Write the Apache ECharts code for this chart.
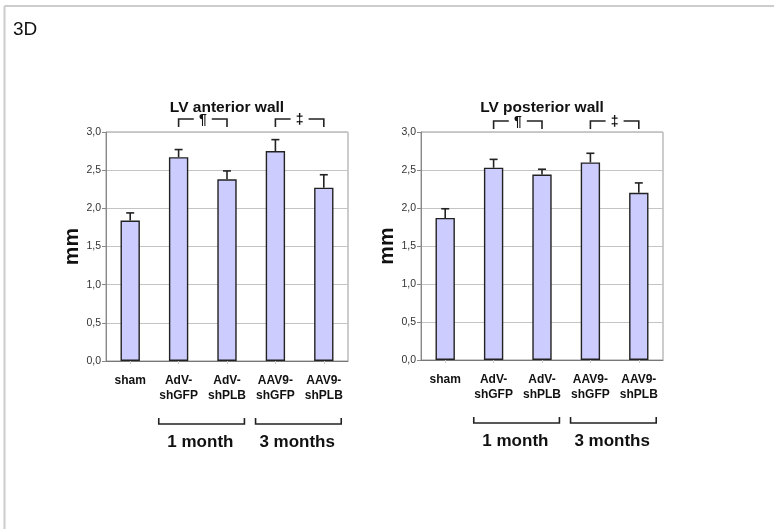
<!DOCTYPE html>
<html><head><meta charset="utf-8">
<script src="https://cdn.jsdelivr.net/npm/echarts@6/dist/echarts.min.js"></script>
<style>html,body{margin:0;padding:0;background:#fff}#c{width:774px;height:529px}</style>
</head><body><div id="c"></div>
<script>
const categories = ['sham', 'AdV-\nshGFP', 'AdV-\nshPLB', 'AAV9-\nshGFP', 'AAV9-\nshPLB'];
const anteriorValues = [1.84, 2.67, 2.38, 2.75, 2.27];
const anteriorErrors = [0.10, 0.10, 0.11, 0.15, 0.17];
const posteriorValues = [1.87, 2.53, 2.44, 2.60, 2.20];
const posteriorErrors = [0.12, 0.11, 0.07, 0.12, 0.13];
const yTicks = [0, 0.5, 1.0, 1.5, 2.0, 2.5, 3.0];
const titles = ['LV anterior wall', 'LV posterior wall'];
const groupLabels = ['1 month', '3 months'];
const sigMarks = ['¶', '‡'];

const FONT = 'Liberation Sans, Arial, sans-serif';
const chart = echarts.init(document.getElementById('c'));

function errSeries(idx, vals, errs) {
  return {
    type: 'custom', xAxisIndex: idx, yAxisIndex: idx, z: 5,
    data: vals.map((v, i) => [i, v, v + errs[i]]),
    renderItem: function (params, api) {
      const p0 = api.coord([api.value(0), api.value(1)]);
      const p1 = api.coord([api.value(0), api.value(2)]);
      const st = { stroke: '#222', lineWidth: 1.6 };
      return { type: 'group', children: [
        { type: 'line', shape: { x1: p0[0], y1: p0[1], x2: p1[0], y2: p1[1] }, style: st },
        { type: 'line', shape: { x1: p1[0] - 4, y1: p1[1], x2: p1[0] + 4, y2: p1[1] }, style: st }
      ]};
    }
  };
}

function xAx(idx) {
  return {
    type: 'category', gridIndex: idx, data: categories,
    axisLine: { lineStyle: { color: '#777', width: 1 } },
    axisTick: { show: true, alignWithLabel: true, length: 3, lineStyle: { color: '#ccc' } },
    axisLabel: { color: '#111', fontWeight: 'bold', fontSize: 12, fontFamily: FONT, lineHeight: 15, margin: 12, interval: 0 }
  };
}
function yAx(idx) {
  return {
    type: 'value', gridIndex: idx, min: 0, max: 3, interval: 0.5,
    name: 'mm', nameLocation: 'middle', nameGap: 22,
    nameTextStyle: { fontSize: 21, fontWeight: 'bold', color: '#111', fontFamily: FONT },
    axisLine: { show: true, lineStyle: { color: '#888' } },
    axisTick: { show: true, length: 4, lineStyle: { color: '#888' } },
    axisLabel: { color: '#333', fontSize: 10.5, fontFamily: FONT, margin: 5,
      formatter: v => v.toFixed(1).replace('.', ',') },
    splitLine: { lineStyle: { color: '#c4c4c4', width: 1 } }
  };
}
function barSeries(idx, vals) {
  return {
    type: 'bar', xAxisIndex: idx, yAxisIndex: idx, data: vals, barWidth: '40%',
    itemStyle: { color: '#ccccff', borderColor: '#222', borderWidth: 1.4 }
  };
}

chart.setOption({
  animation: false,
  grid: [
    { left: 106, right: 426, top: 132, bottom: 168, show: true, borderColor: '#999', borderWidth: 1 },
    { left: 421, right: 111, top: 132, bottom: 169, show: true, borderColor: '#999', borderWidth: 1 }
  ],
  xAxis: [xAx(0), xAx(1)],
  yAxis: [yAx(0), yAx(1)],
  series: [barSeries(0, anteriorValues), errSeries(0, anteriorValues, anteriorErrors),
           barSeries(1, posteriorValues), errSeries(1, posteriorValues, posteriorErrors)]
});

const g = [];
g.push({ type: 'line', shape: { x1: 4.5, y1: 6, x2: 774, y2: 6 }, style: { stroke: '#ccc', lineWidth: 2 } });
g.push({ type: 'line', shape: { x1: 4.5, y1: 6, x2: 4.5, y2: 529 }, style: { stroke: '#ccc', lineWidth: 2 } });
g.push({ type: 'text', left: 13, top: 20, style: { text: '3D', fontSize: 19, fill: '#111', fontFamily: FONT } });
const lineSt = { stroke: '#222', lineWidth: 1.6, fill: null };
[0, 1].forEach(idx => {
  const px = i => chart.convertToPixel({ xAxisIndex: idx }, i);
  const x0 = chart.convertToPixel({ xAxisIndex: idx }, 0);
  const x4 = chart.convertToPixel({ xAxisIndex: idx }, 4);
  const cw = (x4 - x0) / 4;
  const topY = chart.convertToPixel({ yAxisIndex: idx }, 3);
  const botY = chart.convertToPixel({ yAxisIndex: idx }, 0);
  const midX = (x0 + x4) / 2;
  g.push({ type: 'text', x: midX, y: topY - 24, style: { text: titles[idx], fontSize: 15.5, fontWeight: 'bold', fill: '#111', fontFamily: FONT, align: 'center', verticalAlign: 'middle' } });
  [[1, 2], [3, 4]].forEach((pair, k) => {
    const a = px(pair[0]), b = px(pair[1]);
    const yT = topY - 13 + idx * 2, yB = topY - 5 + idx * 2;
    const c = (a + b) / 2;
    g.push({ type: 'polyline', shape: { points: [[a, yB], [a, yT], [c - 9, yT]] }, style: lineSt });
    g.push({ type: 'polyline', shape: { points: [[c + 9, yT], [b, yT], [b, yB]] }, style: lineSt });
    g.push({ type: 'text', x: c, y: yT + 1, style: { text: sigMarks[k], fontSize: 14, fontWeight: 'bold', fill: '#111', fontFamily: FONT, align: 'center', verticalAlign: 'middle' } });
    const l = a - cw * 0.41, r = b + cw * 0.36;
    const yb = botY + 63, yt = botY + 57;
    g.push({ type: 'polyline', shape: { points: [[l, yt], [l, yb], [r, yb], [r, yt]] }, style: lineSt });
    g.push({ type: 'text', x: c - cw * 0.05, y: botY + 81, style: { text: groupLabels[k], fontSize: 17, fontWeight: 'bold', fill: '#111', fontFamily: FONT, align: 'center', verticalAlign: 'middle' } });
  });
});
chart.setOption({ graphic: g });
</script></body></html>
